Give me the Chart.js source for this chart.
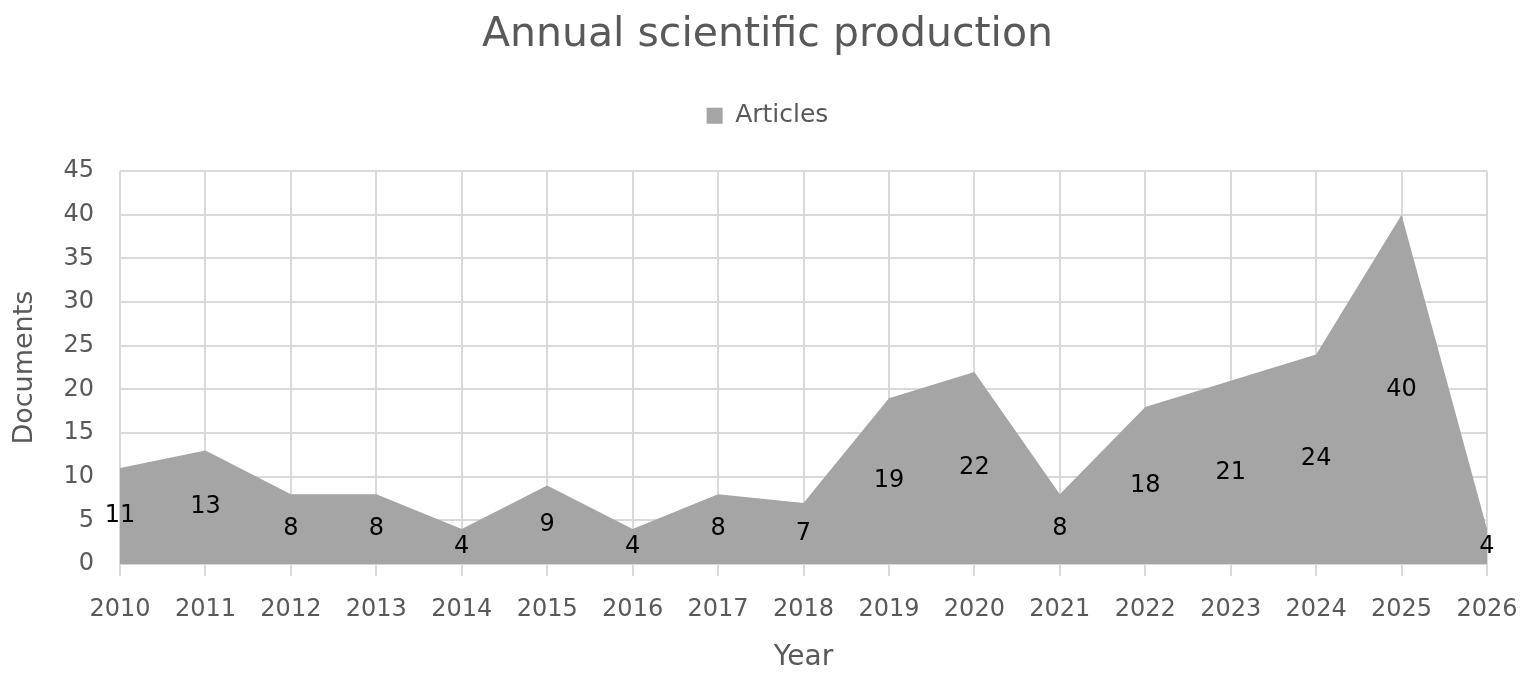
<!DOCTYPE html>
<html>
<head>
<meta charset="utf-8">
<script src="https://cdn.jsdelivr.net/npm/chart.js@4.4.0/dist/chart.umd.min.js"></script>
<style>
  html, body { margin: 0; padding: 0; background: #ffffff; }
  #wrap { width: 1535px; height: 679px; }
</style>
</head>
<body>
<div id="wrap"><canvas id="chart" width="1535" height="679"></canvas></div>
<script>
// values
const years = ['2010', '2011', '2012', '2013', '2014', '2015', '2016', '2017', '2018',
               '2019', '2020', '2021', '2022', '2023', '2024', '2025', '2026'];
const articles = [11, 13, 8, 8, 4, 9, 4, 8, 7, 19, 22, 8, 18, 21, 24, 40, 4];
const yTicks = [0, 5, 10, 15, 20, 25, 30, 35, 40, 45];

const FONT = "'DejaVu Sans', Tahoma, sans-serif";
const GREY_TEXT = '#595959';

// labels sit in the middle of the area, like Excel's "center" data labels
const centerLabels = {
  id: 'centerLabels',
  afterDatasetsDraw(chart) {
    const ctx = chart.ctx;
    const xs = chart.scales.x, ys = chart.scales.y;
    ctx.save();
    ctx.font = '24px ' + FONT;
    ctx.fillStyle = '#000000';
    ctx.textAlign = 'center';
    ctx.textBaseline = 'middle';
    articles.forEach((v, i) => {
      ctx.fillText(String(v), xs.getPixelForValue(i), ys.getPixelForValue(v / 2));
    });
    ctx.restore();
  }
};

// extra gap between the legend and the plot
const legendGap = {
  id: 'legendGap',
  beforeLayout(chart) {
    const lg = chart.legend;
    if (lg && !lg._gapPatched) {
      const fit = lg.fit.bind(lg);
      lg.fit = function () { fit(); this.height += 33; };
      lg._gapPatched = true;
    }
  }
};

new Chart(document.getElementById('chart'), {
  type: 'line',
  data: {
    labels: years,
    datasets: [{
      label: 'Articles',
      data: articles,
      fill: 'origin',
      backgroundColor: '#a5a5a5',
      borderColor: '#a5a5a5',
      borderWidth: 0,
      pointRadius: 0,
      tension: 0
    }]
  },
  options: {
    responsive: false,
    animation: false,
    layout: { padding: { left: 0, right: 0, top: 7, bottom: 0 } },
    plugins: {
      title: {
        display: true,
        text: 'Annual scientific production',
        color: GREY_TEXT,
        font: { family: FONT, size: 41, weight: 'normal' },
        padding: { top: 4, bottom: 33 }
      },
      legend: {
        display: true,
        labels: {
          color: GREY_TEXT,
          font: { family: FONT, size: 25 },
          boxWidth: 16,
          boxHeight: 16,
          padding: 10,
          useBorderRadius: false
        }
      },
      tooltip: { enabled: false }
    },
    scales: {
      x: {
        grid: { color: '#d9d9d9', lineWidth: 2, tickLength: 12, drawTicks: true },
        border: { color: '#d9d9d9', width: 2 },
        ticks: { color: GREY_TEXT, font: { family: FONT, size: 24 }, padding: 19, maxRotation: 0 },
        title: { display: true, text: 'Year', color: GREY_TEXT, font: { family: FONT, size: 28 }, padding: { top: 14 } },
        afterFit(s) { s.height = 115; s.paddingRight = 48; }
      },
      y: {
        min: 0,
        max: 45,
        afterBuildTicks(s) { s.ticks = yTicks.map(v => ({ value: v })); },
        grid: { color: '#d9d9d9', lineWidth: 2, drawTicks: false },
        border: { display: false },
        ticks: { color: GREY_TEXT, font: { family: FONT, size: 24 }, padding: 26 },
        title: { display: true, text: 'Documents', color: GREY_TEXT, font: { family: FONT, size: 27 }, padding: { top: 9, bottom: 4 } },
        afterFit(s) { s.width = 120; }
      }
    }
  },
  plugins: [centerLabels, legendGap]
});
</script>
</body>
</html>
